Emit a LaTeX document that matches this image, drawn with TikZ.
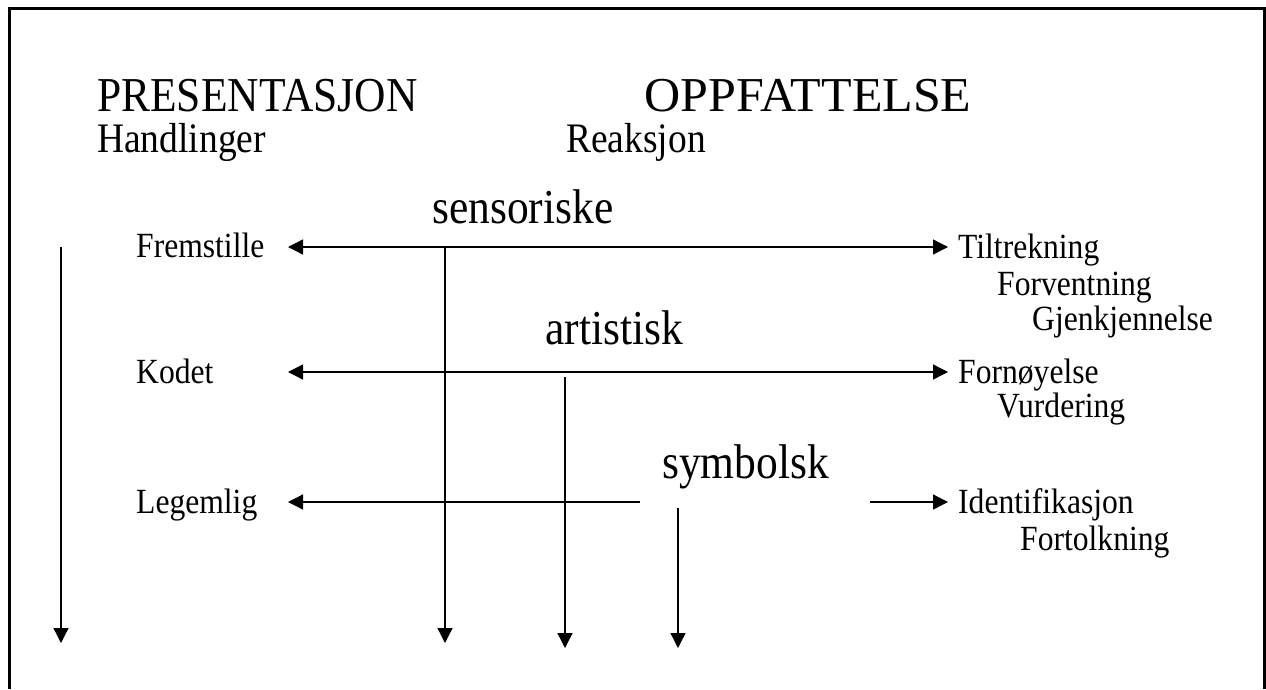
\documentclass[tikz,border=0pt]{standalone}
\usepackage{fontspec}
\setmainfont{Liberation Serif}
\usetikzlibrary{arrows.meta}
\newcommand\stretched[1]{\scalebox{1}[1.12]{#1}}
\tikzset{
  txt/.style={anchor=base west, inner sep=0pt},
  big/.style={txt, font=\fontsize{43.5}{48}\selectfont},
  mid/.style={txt, font=\fontsize{37.5}{42}\selectfont},
  small/.style={txt, font=\fontsize{31.6}{36}\selectfont},
  tip/.style={line width=1.3pt, {Triangle[length=15pt,width=15pt]}-{Triangle[length=15pt,width=15pt]}},
  down/.style={line width=1.3pt, -{Triangle[length=15pt,width=15pt]}}
}
\begin{document}
\begin{tikzpicture}[x=1pt,y=-1pt]
  \useasboundingbox (0,0) rectangle (1266,689);
  \draw[line width=3pt] (9,689) -- (9,8) -- (1264,8) -- (1264,689);
  % rows
  \foreach \n/\y in {a/247,b/372,c/502} {
    \coordinate (l\n) at (288,\y);
    \coordinate (r\n) at (948,\y);
    \draw[tip] (l\n) -- (r\n);
  }
  \fill[white] (640,440) rectangle (870,503.2);
  % headings
  \node[big] (pres) at (97,111) {\stretched{PRESENTASJON}};
  \node[big, anchor=base] (oppf) at (808,111) {\scalebox{1.15}[1.12]{OPPFATTELSE}};
  \node[mid] (handl) at (97,152) {\stretched{Handlinger}};
  \node[mid] (reak) at (566,152) {\stretched{Reaksjon}};
  % levels
  \node[big] (sens) at (432,223) {\stretched{sensoriske}};
  \node[big] (art) at (545,344) {\stretched{artistisk}};
  \node[big] (sym) at (662,478) {\stretched{symbolsk}};
  \node[small] (frem) at (136,257) {\stretched{Fremstille}};
  \node[small] (kod) at (136,383) {\stretched{Kodet}};
  \node[small] (leg) at (136,513) {\stretched{Legemlig}};
  \node[small] (tilt) at (958,258) {\stretched{Tiltrekning}};
  \node[small] (forv) at (997,295) {\stretched{Forventning}};
  \node[small] (gjen) at (1032,330) {\stretched{Gjenkjennelse}};
  \node[small] (forn) at (958,383) {\stretched{Fornøyelse}};
  \node[small] (vurd) at (997,417) {\stretched{Vurdering}};
  \node[small] (ident) at (958,513) {\stretched{Identifikasjon}};
  \node[small] (fort) at (1020,550) {\stretched{Fortolkning}};
  % downward arrows
  \coordinate (d0) at (61,247);   \coordinate (e0) at (61,643);
  \coordinate (d1) at (445,247);  \coordinate (e1) at (445,643);
  \coordinate (d2) at (565,377);  \coordinate (e2) at (565,648);
  \coordinate (d3) at (678,508);  \coordinate (e3) at (678,648);
  \foreach \i in {0,1,2,3}
    \draw[down] (d\i) -- (e\i);
\end{tikzpicture}
\end{document}
